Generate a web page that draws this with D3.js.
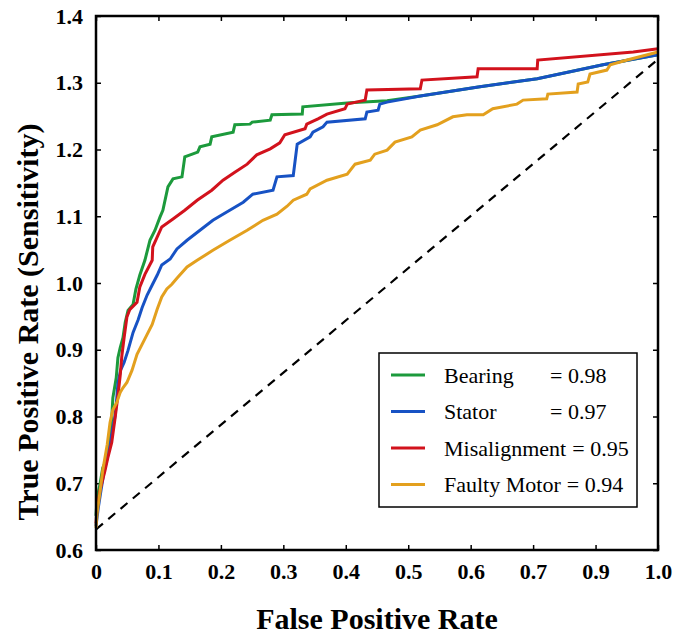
<!DOCTYPE html>
<html>
<head>
<meta charset="utf-8">
<script src="https://cdn.jsdelivr.net/npm/d3@7"></script>
<style>
  body { margin: 0; background: #fff; }
  text { font-family: "Liberation Serif", "Times New Roman", serif; }
</style>
</head>
<body>
<script>
// tick labels (the source figure skips 0.8 on the x axis)
var xTickLabels = ["0", "0.1", "0.2", "0.3", "0.4", "0.5", "0.6", "0.7", "0.9", "1.0"];
var yTicks = [0.6, 0.7, 0.8, 0.9, 1.0, 1.1, 1.2, 1.3, 1.4];

var names = ["Bearing", "Stator", "Misalignment", "Faulty Motor"];
var aucs = ["0.98", "0.97", "0.95", "0.94"];
var colors = ["#1c9a3c", "#1752c4", "#d2121c", "#e3a01e"];

// ROC points [fpr, tpr]
var bearing = [[0,0.651],[0.002,0.678],[0.007,0.698],[0.012,0.723],[0.020,0.738],[0.025,0.768],
  [0.028,0.798],[0.030,0.828],[0.036,0.858],[0.039,0.888],[0.043,0.903],[0.048,0.918],[0.052,0.941],
  [0.057,0.959],[0.066,0.968],[0.071,0.991],[0.078,1.012],[0.087,1.034],[0.096,1.064],[0.105,1.079],
  [0.114,1.099],[0.119,1.109],[0.128,1.144],[0.137,1.156],[0.153,1.159],[0.158,1.189],[0.181,1.196],
  [0.185,1.204],[0.203,1.208],[0.206,1.219],[0.244,1.226],[0.247,1.237],[0.274,1.238],[0.278,1.241],
  [0.310,1.244],[0.313,1.252],[0.367,1.253],[0.368,1.264],[0.452,1.270],[0.518,1.273],[0.577,1.280],
  [0.683,1.294],[0.785,1.306],[0.902,1.327],[1,1.342]];

var stator = [[0,0.636],[0.004,0.663],[0.009,0.690],[0.014,0.716],[0.020,0.738],[0.025,0.758],
  [0.030,0.783],[0.034,0.801],[0.037,0.828],[0.039,0.850],[0.044,0.870],[0.050,0.881],[0.057,0.899],
  [0.066,0.926],[0.075,0.945],[0.082,0.963],[0.091,0.982],[0.100,0.997],[0.109,1.012],[0.117,1.027],
  [0.132,1.036],[0.144,1.051],[0.162,1.064],[0.185,1.079],[0.208,1.094],[0.238,1.109],[0.262,1.121],
  [0.279,1.133],[0.315,1.139],[0.322,1.159],[0.351,1.161],[0.358,1.208],[0.381,1.219],[0.386,1.226],
  [0.404,1.234],[0.411,1.241],[0.479,1.246],[0.482,1.256],[0.502,1.259],[0.505,1.268],[0.518,1.271],
  [0.577,1.280],[0.683,1.294],[0.785,1.306],[0.902,1.327],[1,1.342]];

var misalignment = [[0,0.640],[0.002,0.663],[0.007,0.689],[0.016,0.719],[0.021,0.738],[0.028,0.761],
  [0.034,0.798],[0.039,0.831],[0.043,0.861],[0.046,0.891],[0.050,0.918],[0.055,0.949],[0.060,0.960],
  [0.073,0.971],[0.078,0.994],[0.087,1.013],[0.100,1.034],[0.101,1.054],[0.109,1.069],[0.117,1.084],
  [0.137,1.096],[0.158,1.109],[0.180,1.124],[0.206,1.139],[0.226,1.154],[0.247,1.166],[0.269,1.178],
  [0.286,1.192],[0.310,1.201],[0.327,1.210],[0.336,1.222],[0.372,1.231],[0.375,1.238],[0.395,1.246],
  [0.411,1.253],[0.443,1.261],[0.447,1.268],[0.479,1.274],[0.482,1.289],[0.577,1.291],[0.580,1.304],
  [0.678,1.309],[0.680,1.321],[0.785,1.321],[0.786,1.334],[0.956,1.346],[1,1.351]];

var faultyMotor = [[0,0.633],[0.002,0.656],[0.007,0.686],[0.012,0.719],[0.020,0.758],[0.025,0.791],
  [0.030,0.810],[0.037,0.821],[0.043,0.836],[0.048,0.843],[0.055,0.851],[0.064,0.869],[0.073,0.893],
  [0.082,0.908],[0.091,0.923],[0.100,0.938],[0.109,0.961],[0.117,0.979],[0.126,0.991],[0.135,0.998],
  [0.144,1.007],[0.162,1.024],[0.180,1.034],[0.208,1.049],[0.238,1.064],[0.269,1.079],[0.297,1.094],
  [0.322,1.103],[0.340,1.115],[0.351,1.124],[0.375,1.133],[0.381,1.141],[0.411,1.154],[0.447,1.163],
  [0.461,1.178],[0.488,1.184],[0.496,1.193],[0.518,1.199],[0.532,1.211],[0.562,1.219],[0.577,1.229],
  [0.607,1.237],[0.635,1.249],[0.660,1.252],[0.689,1.252],[0.706,1.261],[0.749,1.268],[0.760,1.274],
  [0.802,1.276],[0.804,1.283],[0.856,1.286],[0.858,1.298],[0.875,1.301],[0.879,1.313],[0.909,1.319],
  [0.915,1.327],[0.945,1.334],[1,1.346]];

var chance = [[0, 0.631], [1, 1.335]];

var series = [bearing, stator, misalignment, faultyMotor];

var margin = {top: 16, right: 26, bottom: 85, left: 96},
    width = 684 - margin.left - margin.right,
    height = 635 - margin.top - margin.bottom;

var svg = d3.select("body").append("svg")
    .attr("width", 684)
    .attr("height", 635)
    .append("g")
    .attr("transform", "translate(" + margin.left + "," + margin.top + ")");

var x = d3.scaleLinear().domain([0, 1]).range([0, width]);
var y = d3.scaleLinear().domain([0.6, 1.4]).range([height, 0]);

var xTickVals = xTickLabels.map(function(d, i) { return i / (xTickLabels.length - 1); });

var xAxis = d3.axisBottom(x).tickValues(xTickVals).tickSizeInner(-5).tickSizeOuter(0).tickPadding(13)
    .tickFormat(function(d, i) { return xTickLabels[i]; });
var yAxis = d3.axisLeft(y).tickValues(yTicks).tickSizeInner(-5).tickSizeOuter(0).tickPadding(13)
    .tickFormat(d3.format(".1f"));

function styleAxis(g) {
  g.select(".domain").remove();
  g.selectAll(".tick line").attr("stroke", "#000").attr("stroke-width", 1.5);
  g.selectAll(".tick text").attr("fill", "#000").style("font-size", "22px").style("font-weight", "bold")
    .style("font-family", "'Liberation Serif', serif");
}

svg.append("g").attr("transform", "translate(0," + height + ")").call(xAxis).call(styleAxis);
svg.append("g").call(yAxis).call(styleAxis);
svg.append("g").call(d3.axisTop(x).tickValues(xTickVals).tickSize(-5).tickFormat(""))
    .call(styleAxis);
svg.append("g").attr("transform", "translate(" + width + ",0)")
    .call(d3.axisRight(y).tickValues(yTicks).tickSize(-5).tickFormat(""))
    .call(styleAxis);

var line = d3.line()
    .x(function(d) { return x(d[0]); })
    .y(function(d) { return y(d[1]); });

svg.append("path")
    .datum(chance)
    .attr("d", line)
    .attr("fill", "none")
    .attr("stroke", "#000")
    .attr("stroke-width", 2.2)
    .attr("stroke-dasharray", "9,7");

svg.selectAll(".roc")
    .data(series)
    .enter().append("path")
      .attr("class", "roc")
      .attr("d", line)
      .attr("fill", "none")
      .attr("stroke", function(d, i) { return colors[i]; })
      .attr("stroke-width", 3)
      .attr("stroke-linejoin", "miter");

// frame
svg.append("rect")
    .attr("width", width)
    .attr("height", height)
    .attr("fill", "none")
    .attr("stroke", "#000")
    .attr("stroke-width", 2.5);

// axis titles
svg.append("text")
    .attr("x", width / 2)
    .attr("y", height + 79)
    .attr("text-anchor", "middle")
    .style("font-size", "30px")
    .style("font-weight", "bold")
    .text("False Positive Rate");

svg.append("text")
    .attr("transform", "translate(" + (-58) + "," + (322 - margin.top) + ") rotate(-90)")
    .attr("text-anchor", "middle")
    .style("font-size", "30px")
    .style("font-weight", "bold")
    .text("True Positive Rate (Sensitivity)");

// legend
var legend = svg.append("g").attr("transform", "translate(" + (379 - margin.left) + "," + (353 - margin.top) + ")");
legend.append("rect")
    .attr("width", 258)
    .attr("height", 154)
    .attr("fill", "#fff")
    .attr("stroke", "#000")
    .attr("stroke-width", 1.5);

var item = legend.selectAll(".item")
    .data(names)
    .enter().append("g")
      .attr("class", "item")
      .attr("transform", function(d, i) { return "translate(0," + (22 + i * 36.5) + ")"; });

item.append("line")
    .attr("x1", 12).attr("x2", 46)
    .attr("stroke", function(d, i) { return colors[i]; })
    .attr("stroke-width", 3);

item.append("text")
    .attr("class", "name")
    .attr("x", 65)
    .attr("dy", "0.35em")
    .style("font-size", "22px")
    .text(function(d) { return d; });

item.append("text")
    .attr("x", function(d) {
      var w = d3.select(this.parentNode).select(".name").node().getComputedTextLength();
      return Math.max(171, 65 + w + 6);
    })
    .attr("dy", "0.35em")
    .style("font-size", "22px")
    .text(function(d, i) { return "= " + aucs[i]; });
</script>
</body>
</html>
